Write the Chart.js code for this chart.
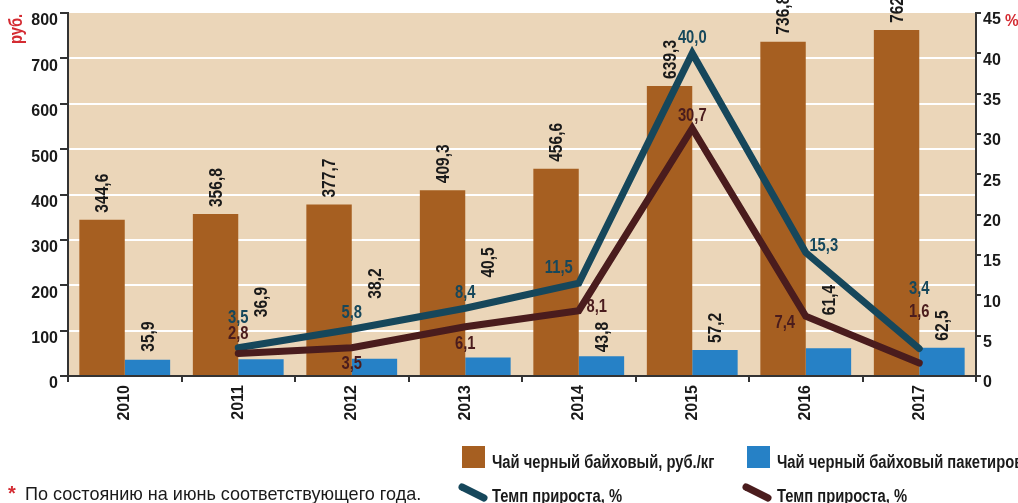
<!DOCTYPE html>
<html><head><meta charset="utf-8">
<script src="https://cdn.jsdelivr.net/npm/chart.js@4.4.1/dist/chart.umd.min.js"></script>
<style>html,body{margin:0;padding:0;background:#fff;overflow:hidden}#wrap{width:1018px;height:503px;position:relative}</style>
</head><body><div id="wrap"><canvas id="c" width="1018" height="503"></canvas></div>
<script>
const years = ['2010','2011','2012','2013','2014','2015','2016','2017'];
const teaLoose = [344.6, 356.8, 377.7, 409.3, 456.6, 639.3, 736.8, 762.5];
const teaBags = [35.9, 36.9, 38.2, 40.5, 43.8, 57.2, 61.4, 62.5];
const growthLoose = [null, 3.5, 5.8, 8.4, 11.5, 40.0, 15.3, 3.4];
const growthBags = [null, 2.8, 3.5, 6.1, 8.1, 30.7, 7.4, 1.6];
const leftTicks = [0, 100, 200, 300, 400, 500, 600, 700, 800];
const rightTicks = [0, 5, 10, 15, 20, 25, 30, 35, 40, 45];
const seriesNames = ['Чай черный байховый, руб./кг', 'Чай черный байховый пакетированный, руб./100 пак.', 'Темп прироста, %', 'Темп прироста, %'];
const leftTitle = 'руб.';
const rightTitle = '%';
const footnote = 'По состоянию на июнь соответствующего года.';

const C = {tan:'#EBD6B9', brown:'#A65F21', blue:'#2681C6', teal:'#16475B', maroon:'#4A1C1D', red:'#D42B32', text:'#1a1a1a', axis:'#333333'};
const FONT = "'Liberation Sans',Arial,sans-serif";
const fmt = v => v.toFixed(1).replace('.', ',');

// label placement tweaks (pixels)
const barLabelGap = [[7,7,7,7,7,7,7,7],[8,42,60,80,4,7,33,7]];
const lineLabelShift = [
  [[0,0],[0,-30],[0,-16],[0,-15],[-20,-15],[0,-15],[18,-7],[0,-60]],
  [[0,0],[0,-19],[0,16],[0,17],[18,-4],[0,-12],[-21,7],[0,-51]]
];

// draws condensed text (horizontal scale emulates a narrow face)
function narrowText(ctx, text, x, y, o){
  ctx.save();
  ctx.translate(x, y);
  if (o.rot) ctx.rotate(o.rot);
  ctx.scale(o.sx || 0.82, 1);
  ctx.font = (o.weight || 'bold') + ' ' + o.size + 'px ' + FONT;
  ctx.textAlign = o.align || 'left';
  ctx.textBaseline = o.baseline || 'alphabetic';
  ctx.fillStyle = o.color || C.text;
  ctx.fillText(text, 0, 0);
  ctx.restore();
}

const bgPlugin = {
  id:'bg',
  beforeDraw(chart){
    const {ctx, chartArea:a} = chart;
    ctx.save();
    ctx.fillStyle = '#fff'; ctx.fillRect(0,0,chart.width,chart.height);
    ctx.fillStyle = C.tan; ctx.fillRect(a.left, a.top, a.right-a.left, a.bottom-a.top);
    ctx.restore();
  }
};

const labelPlugin = {
  id:'labels',
  afterDatasetsDraw(chart){
    const ctx = chart.ctx;
    [0,1].forEach(di=>{
      const meta = chart.getDatasetMeta(di);
      const data = chart.data.datasets[di].data;
      meta.data.forEach((bar,i)=>{
        narrowText(ctx, fmt(data[i]), bar.x + 1, bar.y - barLabelGap[di][i], {size:19, rot:-Math.PI/2, baseline:'middle'});
      });
    });
    [2,3].forEach((di,k)=>{
      const meta = chart.getDatasetMeta(di);
      const data = chart.data.datasets[di].data;
      meta.data.forEach((pt,i)=>{
        if (data[i] === null) return;
        const s = lineLabelShift[k][i];
        narrowText(ctx, fmt(data[i]), pt.x + s[0], pt.y + s[1], {size:18, align:'center', baseline:'middle', color:chart.data.datasets[di].borderColor});
      });
    });
  },
  afterDraw(chart){
    const ctx = chart.ctx;
    const ds = chart.data.datasets;
    // axis titles
    narrowText(ctx, leftTitle, 17, 29, {size:18, rot:-Math.PI/2, align:'center', baseline:'middle', color:C.red});
    narrowText(ctx, rightTitle, 1005, 21, {size:17, sx:0.9, baseline:'middle', color:C.red});
    // legend
    ctx.save();
    ctx.fillStyle = ds[0].backgroundColor; ctx.fillRect(462,446,23,22);
    ctx.fillStyle = ds[1].backgroundColor; ctx.fillRect(747,446,23,22);
    ctx.lineCap='round'; ctx.lineWidth=7;
    ctx.strokeStyle = ds[2].borderColor;
    ctx.beginPath(); ctx.moveTo(462,487); ctx.lineTo(484,498); ctx.stroke();
    ctx.strokeStyle = ds[3].borderColor;
    ctx.beginPath(); ctx.moveTo(746,487); ctx.lineTo(768,498); ctx.stroke();
    ctx.restore();
    narrowText(ctx, seriesNames[0], 492, 468, {size:18});
    narrowText(ctx, seriesNames[1], 777, 468, {size:18});
    narrowText(ctx, seriesNames[2], 492, 502, {size:18});
    narrowText(ctx, seriesNames[3], 777, 502, {size:18});
    // footnote
    narrowText(ctx, '*', 8, 500, {size:20, color:C.red, sx:1});
    narrowText(ctx, footnote, 25, 500, {size:19, weight:'normal', sx:0.95});
  }
};

Chart.defaults.font.family = FONT;

new Chart(document.getElementById('c'), {
  type:'bar',
  data:{
    labels: years,
    datasets:[
      {label:seriesNames[0], data:teaLoose, backgroundColor:C.brown, yAxisID:'y', order:2, categoryPercentage:0.8, barPercentage:1},
      {label:seriesNames[1], data:teaBags, backgroundColor:C.blue, yAxisID:'y', order:2, categoryPercentage:0.8, barPercentage:1},
      {type:'line', label:seriesNames[2], data:growthLoose, borderColor:C.teal, backgroundColor:C.teal, borderWidth:7, pointRadius:0, borderCapStyle:'round', borderJoinStyle:'miter', yAxisID:'y2', order:1, spanGaps:false},
      {type:'line', label:seriesNames[3], data:growthBags, borderColor:C.maroon, backgroundColor:C.maroon, borderWidth:7, pointRadius:0, borderCapStyle:'round', borderJoinStyle:'miter', yAxisID:'y2', order:0, spanGaps:false}
    ]
  },
  options:{
    responsive:false, animation:false, devicePixelRatio:1,
    layout:{padding:{top:13,left:0,right:0,bottom:0}},
    plugins:{legend:{display:false}, tooltip:{enabled:false}},
    scales:{
      x:{
        offset:true,
        grid:{drawOnChartArea:false, drawTicks:true, tickLength:6, tickColor:C.axis, lineWidth:2, offset:true},
        border:{color:C.axis, width:2},
        ticks:{minRotation:90, maxRotation:90, padding:3, color:C.text, font:{size:16, weight:'bold'}},
        afterFit(s){ s.height = 127; }
      },
      y:{
        position:'left', min:0, max:800,
        afterBuildTicks(s){ s.ticks = leftTicks.map(v=>({value:v})); },
        grid:{color:ctx => (ctx.tick && ctx.tick.value===800) ? 'rgba(0,0,0,0)' : '#ffffff', lineWidth:2, tickLength:8, tickColor:C.axis, drawTicks:true},
        border:{color:C.axis, width:2},
        ticks:{padding:2, labelOffset:8, color:C.text, font:{size:16, weight:'bold'}},
        afterFit(s){ s.width = 68; }
      },
      y2:{
        position:'right', min:0, max:45,
        afterBuildTicks(s){ s.ticks = rightTicks.map(v=>({value:v})); },
        grid:{drawOnChartArea:false, lineWidth:2, tickLength:5, tickColor:C.axis, color:C.axis},
        border:{color:C.axis, width:2},
        ticks:{padding:2, labelOffset:7, color:C.text, font:{size:16, weight:'bold'}},
        afterFit(s){ s.width = 42; }
      }
    }
  },
  plugins:[bgPlugin, labelPlugin]
});
</script></body></html>
